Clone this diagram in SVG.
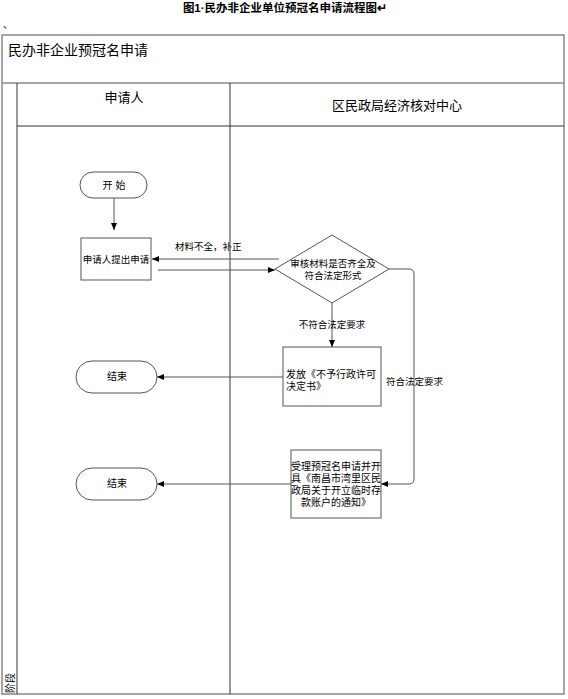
<svg xmlns="http://www.w3.org/2000/svg" width="568" height="699" viewBox="0 0 568 699">
<defs>
<style>
text{font-family:"Liberation Sans","Noto Sans CJK SC",sans-serif;fill:#000}
.frame{fill:none;stroke:#888;stroke-width:1.5}
.lane{fill:none;stroke:#333;stroke-width:1}
.node{fill:#fff;stroke:#555;stroke-width:1}
.t10{font-size:10px}
.t9{font-size:9.5px}
.hdr{font-size:13px}
.con{fill:none;stroke:#555;stroke-width:1}
</style>
<marker id="ah" markerWidth="8" markerHeight="8" refX="7" refY="4" orient="auto" markerUnits="userSpaceOnUse">
<path d="M0,1 L7,4 L0,7 Z" fill="#000"/>
</marker>
</defs>
<rect width="568" height="699" fill="#fff"/>
<text x="285" y="12" text-anchor="middle" style="font-size:11.5px;font-weight:bold">图1·民办非企业单位预冠名申请流程图↵</text>
<text x="3" y="28" style="font-size:10px">、</text>
<g id="frame">
<rect class="frame" x="2" y="35" width="562" height="659"/>
<line class="frame" x1="2" y1="83" x2="564" y2="83"/>
<line class="lane" x1="17" y1="126" x2="564" y2="126"/>
<line class="lane" x1="17" y1="83" x2="17" y2="694"/>
<line class="lane" x1="230" y1="83" x2="230" y2="694"/>
<text x="8" y="55" style="font-size:14px">民办非企业预冠名申请</text>
<text x="124" y="102" text-anchor="middle" class="hdr">申请人</text>
<text x="397" y="110" text-anchor="middle" class="hdr">区民政局经济核对中心</text>
<text transform="translate(14,683) rotate(-90)" text-anchor="middle" style="font-size:10px">阶段</text>
</g>
<g id="start">
<rect class="node" x="80" y="172" width="67" height="26" rx="13"/>
<text x="114" y="189" text-anchor="middle" class="t10">开 始</text>
</g>
<g id="apply">
<rect class="node" x="81" y="238" width="70" height="42"/>
<text x="116" y="263" text-anchor="middle" class="t9">申请人提出申请</text>
</g>
<g id="review">
<polygon class="node" points="332,235 389,269 332,303 275,269"/>
<text x="333" y="267" text-anchor="middle" class="t9">审核材料是否齐全及</text>
<text x="333" y="279" text-anchor="middle" class="t9">符合法定形式</text>
</g>
<g id="reject">
<rect class="node" x="283" y="347" width="98" height="59"/>
<text x="286" y="378" class="t10">发放《不予行政许可</text>
<text x="286" y="390" class="t10">决定书》</text>
</g>
<g id="accept">
<rect class="node" x="291" y="450" width="90" height="68"/>
<text x="336" y="470" text-anchor="middle" class="t10">受理预冠名申请并开</text>
<text x="336" y="482" text-anchor="middle" class="t10">具《南昌市湾里区民</text>
<text x="336" y="494" text-anchor="middle" class="t10">政局关于开立临时存</text>
<text x="336" y="506" text-anchor="middle" class="t10">款账户的通知》</text>
</g>
<g id="end1">
<rect class="node" x="76" y="361" width="81" height="32" rx="16"/>
<text x="117" y="380" text-anchor="middle" class="t10">结束</text>
</g>
<g id="end2">
<rect class="node" x="76" y="468" width="81" height="32" rx="16"/>
<text x="117" y="487" text-anchor="middle" class="t10">结束</text>
</g>
<g id="connectors">
<line class="con" x1="114" y1="198" x2="114" y2="230" marker-end="url(#ah)"/>
<line class="con" x1="279" y1="259" x2="152" y2="259" marker-end="url(#ah)"/>
<line class="con" x1="158" y1="270" x2="275" y2="270" marker-end="url(#ah)"/>
<line class="con" x1="332" y1="303" x2="332" y2="347" marker-end="url(#ah)"/>
<line class="con" x1="283" y1="377" x2="157" y2="377" marker-end="url(#ah)"/>
<path class="con" d="M389,269 H409 Q414,269 414,274 V479 Q414,484 409,484 H381" marker-end="url(#ah)"/>
<line class="con" x1="291" y1="484" x2="157" y2="484" marker-end="url(#ah)"/>
<text x="175" y="250" class="t9">材料不全，补正</text>
<text x="332" y="328" text-anchor="middle" class="t9">不符合法定要求</text>
<text x="386" y="385" class="t9">符合法定要求</text>
</g>
</svg>
